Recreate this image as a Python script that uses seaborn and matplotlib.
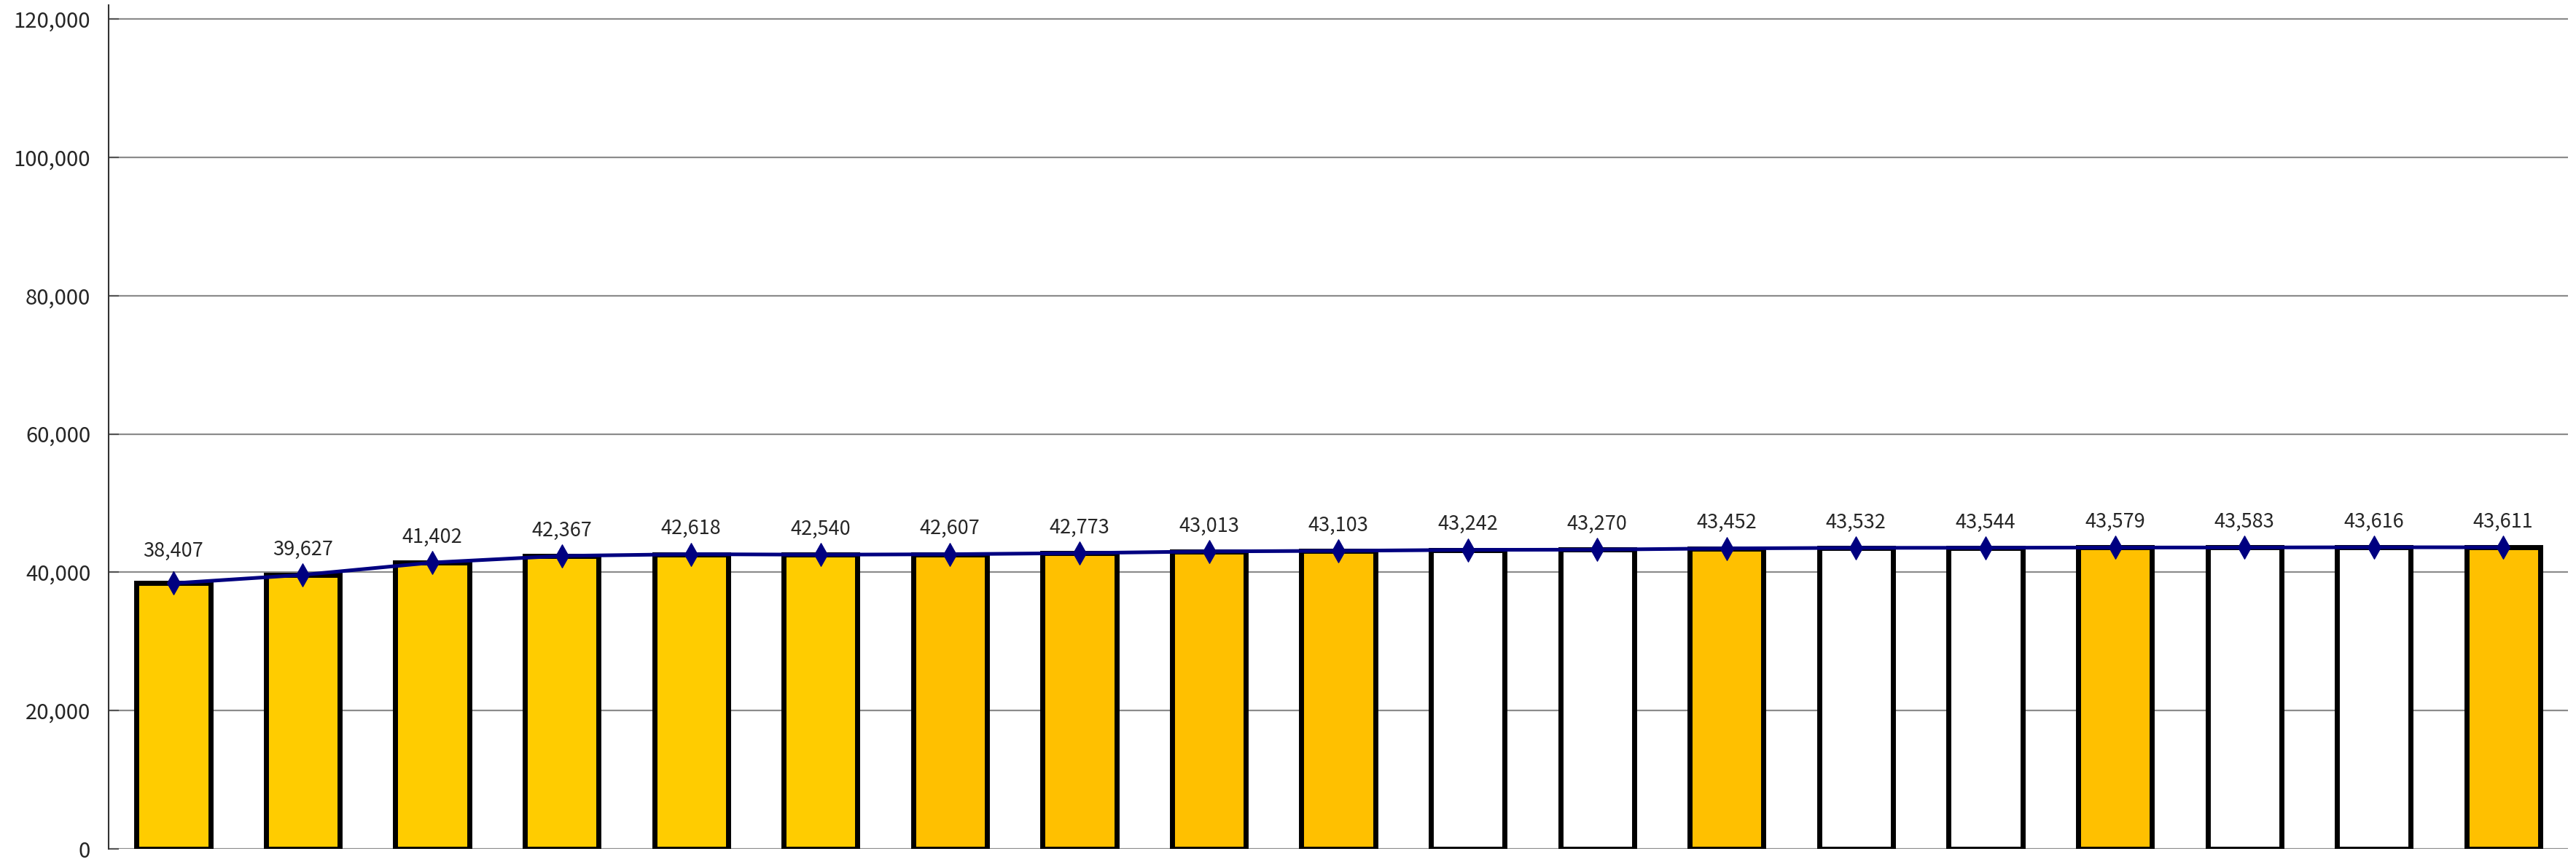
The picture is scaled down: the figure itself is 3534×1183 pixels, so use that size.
import numpy as np
import pandas as pd
import matplotlib
matplotlib.use("Agg")
import matplotlib.pyplot as plt
import seaborn as sns
from matplotlib.ticker import FuncFormatter

categories = [str(i) for i in range(1, 20)]
values = [38407, 39627, 41402, 42367, 42618, 42540, 42607, 42773, 43013, 43103,
          43242, 43270, 43452, 43532, 43544, 43579, 43583, 43616, 43611]
bar_colors = ["#FFCC00"] * 6 + ["#FFC000"] * 4 + ["#FFFFFF", "#FFFFFF", "#FFC000",
              "#FFFFFF", "#FFFFFF", "#FFC000", "#FFFFFF", "#FFFFFF", "#FFC000"]
y_ticks = [0, 20000, 40000, 60000, 80000, 100000, 120000]

sns.set_style("white")
plt.rcParams['font.family'] = ['Noto Sans CJK JP', 'DejaVu Sans']

df = pd.DataFrame({"cat": categories, "value": values})

fig = plt.figure(figsize=(35.34, 11.83), dpi=100)
ax = fig.add_axes([0.0422, 0.0152, 0.9547, 0.9788])

# gridlines behind the bars
ax.set_axisbelow(True)
ax.yaxis.grid(True, color="#8c8c8c", linewidth=1.6)

sns.barplot(data=df, x="cat", y="value", hue="cat", palette=bar_colors,
            legend=False, width=0.57, saturation=1, ax=ax)
for p in ax.patches:
    p.set_edgecolor("black")
    p.set_linewidth(5)

# total line
sns.lineplot(x=np.arange(len(values)), y=values, color="#000080", linewidth=3.6,
             marker="d", markersize=16, markeredgecolor="#000080", ax=ax, zorder=5)

# data labels
for i, v in enumerate(values):
    if i == 0:
        ax.annotate(f"{v:,}", xy=(i, v), xytext=(0, 32), textcoords="offset points",
                    ha="center", va="center", fontsize=19.5,
                    arrowprops=dict(arrowstyle="-", color="black", lw=1.4,
                                    shrinkA=9, shrinkB=2))
    else:
        ax.annotate(f"{v:,}", xy=(i, v), xytext=(0, 25), textcoords="offset points",
                    ha="center", va="center", fontsize=19.5)

ax.set_xlim(-0.5, len(values) - 0.5)
ax.set_ylim(0, 122000)
ax.set_yticks(y_ticks)
ax.yaxis.set_major_formatter(FuncFormatter(lambda x, p: f"{int(x):,}"))
ax.tick_params(axis="y", direction="in", length=10, width=1.5, color="#555555",
               labelsize=21, pad=18, left=True)
ax.set_xticks([])
ax.set_xlabel("")
ax.set_ylabel("")

for s in ["top", "right", "bottom"]:
    ax.spines[s].set_visible(False)
ax.spines["left"].set_color("#333333")
ax.spines["left"].set_linewidth(1.5)

fig.savefig("out.png", dpi=100, facecolor="white")
